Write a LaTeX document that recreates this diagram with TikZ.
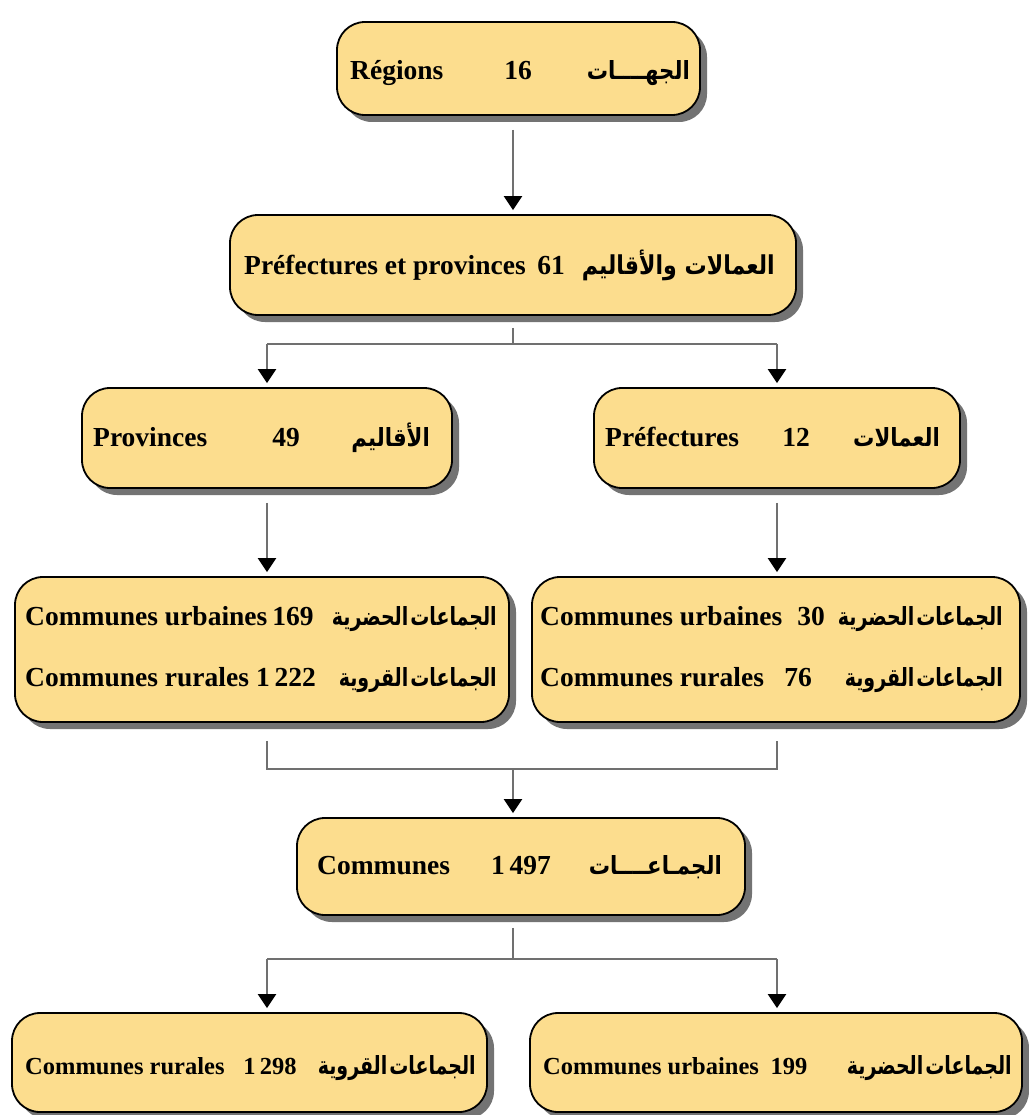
\documentclass[tikz,border=0pt]{standalone}
\usepackage{fontspec}
\setmainfont{Liberation Serif}
\newfontfamily\arabicfont[Script=Arabic,FakeStretch=0.85]{DejaVu Sans}
\newfontfamily\arabicnarrow[Script=Arabic,FakeStretch=0.76,WordSpace=0.3]{DejaVu Sans}
\TeXXeTstate=1
\usetikzlibrary{arrows.meta,shadows,calc}
\definecolor{boxfill}{HTML}{FCDD8E}
\definecolor{linegray}{HTML}{707070}
\begin{document}
\begin{tikzpicture}[x=1pt,y=-1pt,
  box/.style={draw=black, line width=1.8pt, fill=boxfill, rounded corners=28pt, inner sep=0pt,
    drop shadow={shadow xshift=7pt, shadow yshift=-7pt, fill=black!55, opacity=1}},
  lat/.style={anchor=base west, inner sep=0pt, font=\fontsize{27.5}{32}\selectfont\bfseries},
  num/.style={anchor=base, inner sep=0pt, font=\fontsize{27.5}{32}\selectfont\bfseries},
  lats/.style={lat, font=\fontsize{24.5}{29}\selectfont\bfseries},
  nums/.style={num, font=\fontsize{24.5}{29}\selectfont\bfseries},
  ar/.style={anchor=base east, inner sep=0pt, font=\fontsize{25}{30}\selectfont\arabicfont\bfseries},
  arn/.style={anchor=base east, inner sep=0pt, font=\fontsize{25}{30}\selectfont\arabicnarrow\bfseries},
  ln/.style={draw=linegray, line width=2.4pt},
  arr/.style={ln, shorten >=4pt, -{Triangle[width=18pt,length=14pt,color=black]}}]
\fill[white] (0,0) rectangle (1028,1115);
\useasboundingbox (0,0) rectangle (1028,1115);

% boxes
\node[box, minimum width=363pt, minimum height=93pt] (b1) at (518.5,68.5) {};
\node[box, minimum width=566pt, minimum height=100pt] (b2) at (513,265) {};
\node[box, minimum width=370pt, minimum height=100pt] (b3) at (267,438) {};
\node[box, minimum width=366pt, minimum height=100pt] (b4) at (777,438) {};
\node[box, minimum width=494pt, minimum height=145pt] (b5) at (262,649.5) {};
\node[box, minimum width=488pt, minimum height=145pt] (b6) at (776,649.5) {};
\node[box, minimum width=448pt, minimum height=97pt] (b7) at (521,866.5) {};
\node[box, minimum width=475pt, minimum height=99pt] (b8) at (249.5,1062.5) {};
\node[box, minimum width=492pt, minimum height=99pt] (b9) at (776,1062.5) {};

% texts
\node[lat] (t1a) at (350,80) {Régions};
\node[num] (t1b) at (518,80) {16};
\node[ar]  (t1c) at (690,80) {\beginR الجهــــات\endR};

\node[lat] (t2a) at (244,274) {Préfectures et provinces};
\node[num] (t2b) at (551,274) {61};
\node[ar, font=\fontsize{26}{30}\selectfont\arabicfont\bfseries] (t2c) at (775,274) {\beginR العمالات والأقاليم\endR};

\node[lat] (t3a) at (93,446) {Provinces};
\node[num] (t3b) at (286,446) {49};
\node[ar]  (t3c) at (430,446) {\beginR الأقاليم\endR};

\node[lat] (t4a) at (605,446) {Préfectures};
\node[num] (t4b) at (796,446) {12};
\node[ar]  (t4c) at (940,446) {\beginR العمالات\endR};

\node[lat] (t5a) at (25,625) {Communes urbaines};
\node[num] (t5b) at (293,625) {169};
\node[arn] (t5c) at (497,625) {\beginR الجماعات الحضرية\endR};
\node[lat] (t5d) at (25,686) {Communes rurales};
\node[num] (t5e) at (286,686) {1\,222};
\node[arn] (t5f) at (497,686) {\beginR الجماعات القروية\endR};

\node[lat] (t6a) at (540,625) {Communes urbaines};
\node[num] (t6b) at (811,625) {30};
\node[arn] (t6c) at (1003,625) {\beginR الجماعات الحضرية\endR};
\node[lat] (t6d) at (540,686) {Communes rurales};
\node[num] (t6e) at (798,686) {76};
\node[arn] (t6f) at (1003,686) {\beginR الجماعات القروية\endR};

\node[lat] (t7a) at (317,874) {Communes};
\node[num] (t7b) at (521,874) {1\,497};
\node[ar]  (t7c) at (722,874) {\beginR الجمـاعــــات\endR};

\node[lats] (t8a) at (25,1074) {Communes rurales};
\node[nums] (t8b) at (270,1074) {1\,298};
\node[arn]  (t8c) at (476,1074) {\beginR الجماعات القروية\endR};

\node[lats] (t9a) at (543,1074) {Communes urbaines};
\node[nums] (t9b) at (789,1074) {199};
\node[arn]  (t9c) at (1012,1074) {\beginR الجماعات الحضرية\endR};

% connectors
\draw[arr] ($(b1.south -| b2.north)+(0,14)$) -- (b2.north);

\coordinate (s1) at ($(b2.south)+(0,28)$);
\draw[ln] ($(b2.south)+(0,12)$) -- (s1);
\draw[ln] (s1 -| b3.north) -- (s1 -| b4.north);
\draw[arr] (s1 -| b3.north) -- (b3.north);
\draw[arr] (s1 -| b4.north) -- (b4.north);

\draw[arr] ($(b3.south)+(0,14)$) -- (b3.south |- b5.north);
\draw[arr] ($(b4.south)+(0,14)$) -- (b4.south |- b6.north);

\coordinate (m) at ($(b7.north)+(0,-48)$);
\draw[ln] ($(b5.south -| b3.south)+(0,18)$) -- (m -| b3.south) -- (m -| b4.south) -- ($(b6.south -| b4.south)+(0,18)$);
\draw[arr] (m -| b2.south) -- (b2.south |- b7.north);

\coordinate (s2) at ($(b7.south)+(0,43)$);
\draw[ln] ($(b7.south -| b2.south)+(0,12)$) -- (s2 -| b2.south);
\draw[ln] (s2 -| b3.south) -- (s2 -| b4.south);
\draw[arr] (s2 -| b3.south) -- (b3.south |- b8.north);
\draw[arr] (s2 -| b4.south) -- (b4.south |- b9.north);
\end{tikzpicture}
\end{document}
